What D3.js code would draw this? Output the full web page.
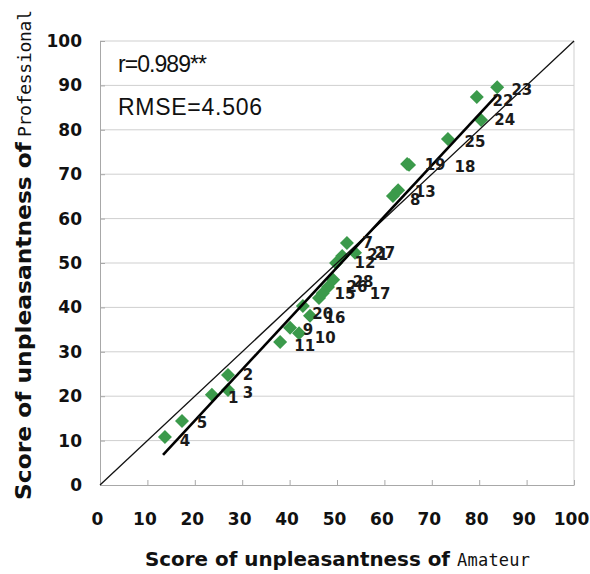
<!DOCTYPE html>
<html>
<head>
<meta charset="utf-8">
<script src="https://cdn.jsdelivr.net/npm/d3@7"></script>
<style>
  body { margin: 0; background: #fff; }
  svg { display: block; }
</style>
</head>
<body>
<div id="chart"></div>
<script>
// sample ids and scores (amateur = x, professional = y)
const ids = [1, 2, 3, 4, 5, 7, 8, 9, 10, 11, 12, 13, 15, 16, 17, 18, 19, 20, 21, 22, 23, 24, 25, 26, 27, 28];
const amateur = [27.0, 27.0, 23.6, 13.7, 17.3, 52.1, 61.8, 40.1, 42.0, 38.0, 49.8, 62.9, 47.0, 44.3, 46.2, 65.2, 64.8, 42.8, 51.1, 79.5, 83.8, 80.4, 73.4, 48.1, 53.8, 49.2];
const professional = [21.4, 24.8, 20.3, 10.8, 14.4, 54.5, 65.1, 35.4, 34.2, 32.2, 50.0, 66.4, 43.2, 38.1, 42.1, 72.1, 72.3, 40.3, 51.6, 87.4, 89.6, 82.2, 77.9, 44.6, 52.3, 46.2];
// where each id label sits (in score units, as placed in the original)
const labelX = [28.1, 31.2, 31.2, 17.9, 21.5, 56.5, 66.5, 43.9, 47.5, 43.2, 55.9, 68.6, 51.7, 49.6, 59.1, 77.0, 70.7, 47.0, 58.6, 85.0, 89.0, 85.4, 79.1, 54.2, 60.1, 55.5];
const labelY = [19.6, 24.8, 20.9, 10.1, 14.0, 54.5, 64.2, 34.9, 33.3, 31.5, 50.0, 66.0, 43.2, 37.6, 43.2, 71.8, 72.1, 38.7, 51.8, 86.5, 89.0, 82.2, 77.3, 44.6, 52.3, 45.7];

// fitted line and stats
const fitSlope = 1.15, fitIntercept = -8.5;
const fitRange = [13.3, 83.8];
const statLines = ["r=0.989**", "RMSE=4.506"];

const ticks = [0, 10, 20, 30, 40, 50, 60, 70, 80, 90, 100];

const width = 590, height = 574;
const margin = { left: 100, top: 41, right: 16, bottom: 89 };

let svg = d3.select('#chart').append('svg')
    .attr('width', width)
    .attr('height', height);

let x = d3.scaleLinear().domain([0, 100]).range([margin.left, width - margin.right]);
let y = d3.scaleLinear().domain([0, 100]).range([height - margin.bottom, margin.top]);

// horizontal gridlines
svg.append('g')
    .selectAll('line')
    .data(ticks.slice(1))
    .enter()
    .append('line')
    .attr('x1', x(0)).attr('x2', x(100))
    .attr('y1', d => y(d)).attr('y2', d => y(d))
    .attr('stroke', '#cfcfcf')
    .attr('stroke-width', 1);

// right border
svg.append('line')
    .attr('x1', x(100)).attr('x2', x(100))
    .attr('y1', y(0)).attr('y2', y(100))
    .attr('stroke', '#cfcfcf');

const tickFont = 'DejaVu Sans, sans-serif';

let xAxis = svg.append('g')
    .attr('transform', `translate(0,${y(0)})`)
    .call(d3.axisBottom(x).tickValues(ticks).tickSize(-5).tickPadding(28).tickSizeOuter(0));
let yAxis = svg.append('g')
    .attr('transform', `translate(${x(0)},0)`)
    .call(d3.axisLeft(y).tickValues(ticks).tickSize(-5).tickPadding(18).tickSizeOuter(0));

[xAxis, yAxis].forEach(a => {
    a.select('.domain').attr('stroke', '#a8a8a8');
    a.selectAll('.tick line').attr('stroke', '#a8a8a8');
    a.selectAll('.tick text')
        .attr('fill', '#111')
        .style('font-family', tickFont)
        .style('font-weight', 'bold')
        .style('font-size', '17px');
});
xAxis.selectAll('.tick text').attr('dx', -3);

let points = ids.map((id, i) => ({ id: id, a: amateur[i], p: professional[i], lx: labelX[i], ly: labelY[i] }));

// diamonds
svg.append('g')
    .selectAll('path')
    .data(points)
    .enter()
    .append('path')
    .attr('d', d3.symbol(d3.symbolSquare, 98))
    .attr('transform', d => `translate(${x(d.a)},${y(d.p)}) rotate(45)`)
    .attr('fill', '#3b9a4b');

// y = x reference line
svg.append('line')
    .attr('x1', x(0)).attr('y1', y(0))
    .attr('x2', x(100)).attr('y2', y(100))
    .attr('stroke', '#111')
    .attr('stroke-width', 1.3);

// regression line
svg.append('line')
    .attr('x1', x(fitRange[0])).attr('y1', y(fitSlope * fitRange[0] + fitIntercept))
    .attr('x2', x(fitRange[1])).attr('y2', y(fitSlope * fitRange[1] + fitIntercept))
    .attr('stroke', '#000')
    .attr('stroke-width', 2.6);

// id labels
svg.append('g')
    .selectAll('text')
    .data(points)
    .enter()
    .append('text')
    .attr('x', d => x(d.lx))
    .attr('y', d => y(d.ly))
    .attr('text-anchor', 'middle')
    .attr('dy', '0.36em')
    .style('font-family', tickFont)
    .style('font-size', '15px')
    .style('font-weight', 'bold')
    .attr('fill', '#1a1a1a')
    .text(d => d.id);

// stats text
svg.append('text')
    .attr('x', 118).attr('y', 72)
    .attr('textLength', 89)
    .style('font-family', 'Liberation Sans, Arial, sans-serif')
    .style('font-size', '23px')
    .attr('fill', '#111')
    .text(statLines[0]);
svg.append('text')
    .attr('x', 118).attr('y', 115)
    .attr('textLength', 144)
    .style('font-family', 'Liberation Sans, Arial, sans-serif')
    .style('font-size', '23px')
    .attr('fill', '#111')
    .text(statLines[1]);

// x axis title
svg.append('text')
    .attr('x', 145).attr('y', 566)
    .attr('textLength', 305)
    .attr('lengthAdjust', 'spacingAndGlyphs')
    .style('font-family', tickFont)
    .style('font-weight', 'bold')
    .style('font-size', '19px')
    .attr('fill', '#111')
    .text('Score of unpleasantness of ');
svg.append('text')
    .attr('x', 457).attr('y', 566)
    .attr('textLength', 73)
    .style('font-family', 'DejaVu Sans Mono, monospace')
    .style('font-size', '17px')
    .attr('fill', '#111')
    .text('Amateur');

// y axis title
let yTitle = svg.append('g').attr('transform', 'translate(31,0) rotate(-90)');
yTitle.append('text')
    .attr('x', -500).attr('y', 0)
    .attr('textLength', 358)
    .attr('lengthAdjust', 'spacingAndGlyphs')
    .style('font-family', tickFont)
    .style('font-weight', 'bold')
    .style('font-size', '21px')
    .attr('fill', '#111')
    .text('Score of unpleasantness of ');
yTitle.append('text')
    .attr('x', -137).attr('y', 0)
    .attr('textLength', 127)
    .style('font-family', 'DejaVu Sans Mono, monospace')
    .style('font-size', '18px')
    .attr('fill', '#111')
    .text('Professional');
</script>
</body>
</html>
